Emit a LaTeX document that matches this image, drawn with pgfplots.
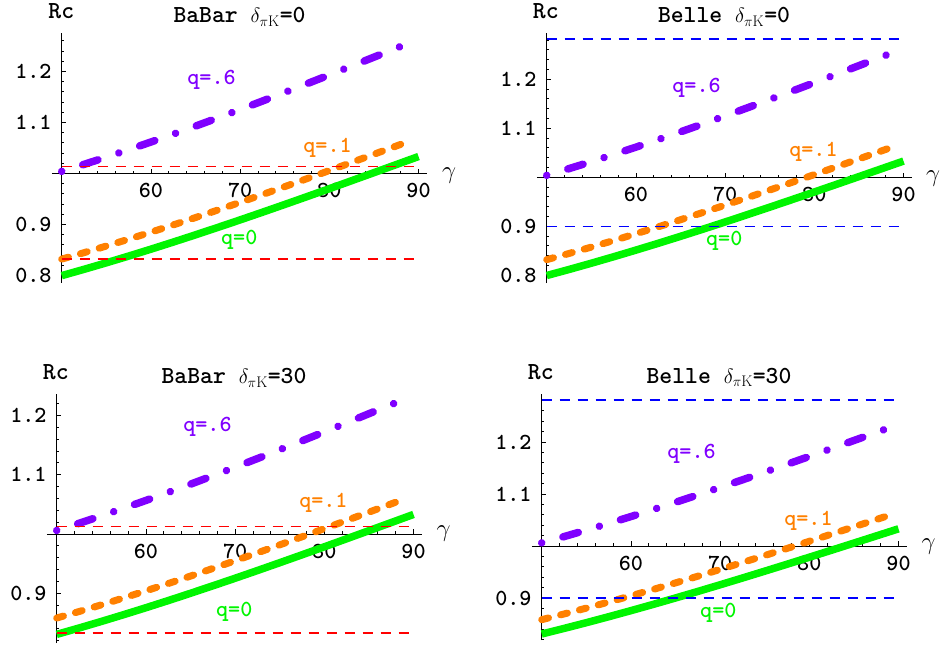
\documentclass[border=0pt]{standalone}
\usepackage{pgfplots}
\pgfplotsset{compat=1.18}
\usepackage{pgfplotstable}
\usepackage{fontspec}
\definecolor{cgreen}{RGB}{0,245,0}
\definecolor{corange}{RGB}{255,128,0}
\definecolor{cpurple}{RGB}{128,0,255}
\newcommand{\tk}{\fontsize{23}{26}\selectfont\ttfamily\bfseries}
\newcommand{\ttl}{\fontsize{24.5}{28}\selectfont\ttfamily\bfseries}
\newcommand{\dl}{{\fontsize{22}{24}\selectfont$\delta_{\pi\mathrm{K}}$}}

% delta = 0 : gamma, q=0, q=.1, q=.6
\pgfplotstableread{
g q0 q1 q6
50 0.79941 0.83184 1.00388
52.5 0.81178 0.84443 1.01759
55 0.82456 0.85745 1.03177
57.5 0.83774 0.87087 1.04639
60 0.85130 0.88467 1.06142
62.5 0.86520 0.89882 1.07683
65 0.87942 0.91330 1.09260
67.5 0.89393 0.92808 1.10870
70 0.90871 0.94312 1.12509
72.5 0.92372 0.95841 1.14173
75 0.93894 0.97391 1.15862
77.5 0.95435 0.98959 1.17569
80 0.96990 1.00542 1.19294
82.5 0.98557 1.02137 1.21032
85 1.00133 1.03742 1.22779
87.5 1.01715 1.05353 1.24534
88.5 1.02349 1.05998 1.25237
89 1.02666 1.06321 1.25589
90 1.03300 1.06967 1.26292
}\tabA

% delta = 30
\pgfplotstableread{
g q0 q1 q6
50 0.83071 0.85827 1.00596
52.5 0.84142 0.86920 1.01802
55 0.85249 0.88050 1.03049
57.5 0.86391 0.89216 1.04334
60 0.87565 0.90415 1.05656
62.5 0.88768 0.91643 1.07011
65 0.90000 0.92901 1.08397
67.5 0.91257 0.94184 1.09812
70 0.92536 0.95491 1.11253
72.5 0.93836 0.96818 1.12717
75 0.95155 0.98164 1.14201
77.5 0.96488 0.99526 1.15702
80 0.97835 1.00900 1.17218
82.5 0.99192 1.02286 1.18746
85 1.00557 1.03679 1.20283
87.5 1.01927 1.05078 1.21826
88.5 1.02476 1.05639 1.22443
89 1.02751 1.05919 1.22753
90 1.03300 1.06480 1.23371
}\tabB

\pgfplotsset{
  rcstyle/.style={
    anchor=south west,
    x=8.92pt, xmin=48.9, xmax=91.0,
    axis lines=left,
    axis line style={-, line width=0.9pt, black},
    clip=false,
    xtick={60,70,80,90}, xticklabels={60,70,80,90},
    ytick={0.8,0.9,1.1,1.2}, yticklabels={0.8,0.9,1.1,1.2},
    minor xtick={52,54,...,88},
    minor ytick={0.78,0.8,...,1.3},
    tick align=inside,
    major tick length=4.5pt, minor tick length=2.5pt,
    tick style={black, line width=0.8pt},
    tick label style={font=\tk, inner sep=0pt},
    xticklabel style={anchor=center, yshift=-17pt},
    yticklabel style={anchor=east, xshift=-10pt},
    axis y line shift=-9.81pt,
  },
  gcurve/.style={cgreen, line width=7.5pt},
  ocurve/.style={corange, line width=7pt, line cap=round, dash pattern=on 7pt off 12.5pt},
  pcurve/.style={cpurple, line width=7.5pt, line cap=round, dash pattern=on 0.01pt off 22pt on 16pt off 22pt},
  redref/.style={color=red, line width=1.4pt, dash pattern=on 10pt off 8pt},
  blueref/.style={color=blue, line width=1.4pt, dash pattern=on 10pt off 8pt},
}

\begin{document}
\begin{tikzpicture}
\path[use as bounding box] (0,0) rectangle (943pt,648pt);

% ---------- BaBar delta=0
\begin{axis}[rcstyle, at={(51.9pt,365pt)}, y=510pt, ymin=0.785, ymax=1.275,
  axis x line shift=-109.65pt]
\addplot[gcurve] table[x=g,y=q0] {\tabA};
\addplot[ocurve, restrict x to domain=50:89] table[x=g,y=q1] {\tabA};
\addplot[pcurve, restrict x to domain=50:88.5] table[x=g,y=q6] {\tabA};
\addplot[redref] coordinates {(50,1.013) (90,1.013)};
\addplot[redref] coordinates {(50,0.832) (90,0.832)};
\node[text=cpurple, font=\tk] at (axis cs:66.8,1.183) {q=.6};
\node[text=corange, font=\tk] at (axis cs:79.8,1.050) {q=.1};
\node[text=cgreen, font=\tk] at (axis cs:69.9,0.869) {q=0};
\end{axis}

% ---------- Belle delta=0
\begin{axis}[rcstyle, at={(536.9pt,364.9pt)}, y=490pt, ymin=0.784, ymax=1.294,
  axis x line shift=-105.84pt]
\addplot[gcurve] table[x=g,y=q0] {\tabA};
\addplot[ocurve, restrict x to domain=50:89] table[x=g,y=q1] {\tabA};
\addplot[pcurve, restrict x to domain=50:88.5] table[x=g,y=q6] {\tabA};
\addplot[blueref] coordinates {(50,1.282) (90,1.282)};
\addplot[blueref] coordinates {(50,0.900) (90,0.900)};
\node[text=cpurple, font=\tk] at (axis cs:66.8,1.182) {q=.6};
\node[text=corange, font=\tk] at (axis cs:79.9,1.052) {q=.1};
\node[text=cgreen, font=\tk] at (axis cs:69.9,0.871) {q=0};
\end{axis}

% ---------- BaBar delta=30
\begin{axis}[rcstyle, at={(46.9pt,4.9pt)}, y=593pt, ymin=0.816, ymax=1.236,
  axis x line shift=-109.1pt]
\addplot[gcurve] table[x=g,y=q0] {\tabB};
\addplot[ocurve, restrict x to domain=50:89] table[x=g,y=q1] {\tabB};
\addplot[pcurve, restrict x to domain=50:88.5] table[x=g,y=q6] {\tabB};
\addplot[redref] coordinates {(50,1.013) (90,1.013)};
\addplot[redref] coordinates {(50,0.8330) (90,0.8330)};
\node[text=cpurple, font=\tk] at (axis cs:66.9,1.180) {q=.6};
\node[text=corange, font=\tk] at (axis cs:79.9,1.052) {q=.1};
\node[text=cgreen, font=\tk] at (axis cs:69.9,0.869) {q=0};
\end{axis}

% ---------- Belle delta=30
\begin{axis}[rcstyle, at={(531.9pt,7.9pt)}, y=520pt, ymin=0.819, ymax=1.292,
  axis x line shift=-94.12pt]
\addplot[gcurve] table[x=g,y=q0] {\tabB};
\addplot[ocurve, restrict x to domain=50:89] table[x=g,y=q1] {\tabB};
\addplot[pcurve, restrict x to domain=50:88.5] table[x=g,y=q6] {\tabB};
\addplot[blueref] coordinates {(50,1.281) (90,1.281)};
\addplot[blueref] coordinates {(50,0.900) (90,0.900)};
\node[text=cpurple, font=\tk] at (axis cs:66.8,1.178) {q=.6};
\node[text=corange, font=\tk] at (axis cs:79.9,1.049) {q=.1};
\node[text=cgreen, font=\tk] at (axis cs:69.8,0.871) {q=0};
\end{axis}

% titles, axis names
\node[anchor=base, inner sep=0pt, font=\ttl] at (239.5pt,625.3pt) {BaBar\ \dl=0};
\node[anchor=base, inner sep=0pt, font=\ttl] at (724pt,625.3pt) {Belle\ \dl=0};
\node[anchor=base, inner sep=0pt, font=\ttl] at (234pt,264pt) {BaBar\ \dl=30};
\node[anchor=base, inner sep=0pt, font=\ttl] at (719pt,264.7pt) {Belle\ \dl=30};
\node[anchor=base, inner sep=0pt, font=\ttl] at (61.3pt,629.6pt) {Rc};
\node[anchor=base, inner sep=0pt, font=\ttl] at (545.8pt,629.2pt) {Rc};
\node[anchor=base, inner sep=0pt, font=\ttl] at (55.8pt,268.4pt) {Rc};
\node[anchor=base, inner sep=0pt, font=\ttl] at (540.8pt,268.4pt) {Rc};
\node[font=\ttl] at (449pt,472.2pt) {$\gamma$};
\node[font=\ttl] at (933pt,469.7pt) {$\gamma$};
\node[font=\ttl] at (443.5pt,114.7pt) {$\gamma$};
\node[font=\ttl] at (928.5pt,101.3pt) {$\gamma$};
\end{tikzpicture}
\end{document}
